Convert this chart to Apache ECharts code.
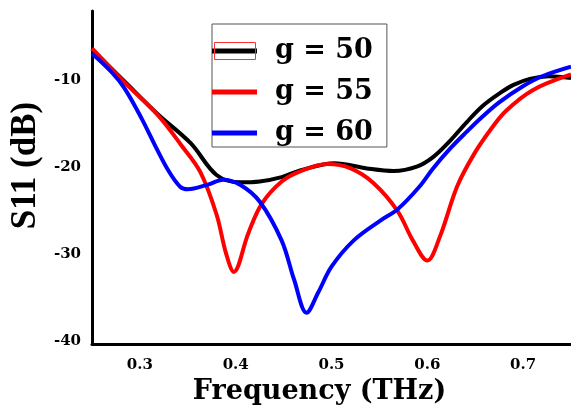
<!DOCTYPE html>
<html>
<head>
<meta charset="utf-8">
<script src="https://cdn.jsdelivr.net/npm/echarts@6/dist/echarts.min.js"></script>
<style>html,body{margin:0;padding:0;background:#fff;}#c{width:571px;height:410px;}</style>
</head>
<body>
<div id="c"></div>
<script>
// Frequency (THz) and S11 (dB) per curve
const freq50 = [0.25, 0.284, 0.319, 0.353, 0.380, 0.404, 0.425, 0.448, 0.468, 0.503, 0.537, 0.565, 0.589, 0.606, 0.624, 0.641, 0.658, 0.675, 0.690, 0.707, 0.727, 0.75];
const s50    = [-6.5, -10.2, -14.0, -17.3, -20.95, -21.8, -21.7, -21.2, -20.4, -19.6, -20.2, -20.5, -20.0, -18.9, -17.0, -14.9, -13.0, -11.6, -10.6, -9.9, -9.6, -9.8];

const freq55 = [0.25, 0.284, 0.319, 0.343, 0.363, 0.380, 0.390, 0.398, 0.413, 0.427, 0.448, 0.468, 0.496, 0.52, 0.544, 0.569, 0.585, 0.600, 0.613, 0.631, 0.648, 0.665, 0.682, 0.71, 0.75];
const s55    = [-6.4, -10.3, -14.1, -17.5, -20.6, -25.5, -30.0, -32.1, -27.7, -24.3, -21.7, -20.5, -19.7, -20.2, -21.9, -25.1, -28.5, -30.8, -28.1, -22.3, -18.7, -15.9, -13.6, -11.2, -9.4];

const freq60 = [0.25, 0.271, 0.284, 0.302, 0.316, 0.330, 0.342, 0.350, 0.370, 0.387, 0.405, 0.425, 0.448, 0.461, 0.474, 0.486, 0.50, 0.523, 0.551, 0.569, 0.591, 0.606, 0.624, 0.641, 0.658, 0.675, 0.699, 0.72, 0.75];
const s60    = [-7.0, -9.2, -11.0, -14.5, -17.6, -20.5, -22.3, -22.6, -22.1, -21.5, -22.1, -24.0, -28.5, -33.0, -36.8, -34.5, -31.5, -28.5, -26.2, -24.9, -22.4, -20.2, -17.9, -16.0, -14.2, -12.6, -10.8, -9.6, -8.5];

const seriesNames = ['g = 50', 'g = 55', 'g = 60'];
const xTicks = [0.3, 0.4, 0.5, 0.6, 0.7];
const yTicks = [-40, -30, -20, -10];

const zip = (xs, ys) => xs.map((x, i) => [x, ys[i]]);
const colors = ['#000000', '#ff0000', '#0000ff'];
const datasets = [zip(freq50, s50), zip(freq55, s55), zip(freq60, s60)];

const chart = echarts.init(document.getElementById('c'), null, {renderer: 'canvas'});
chart.setOption({
  animation: false,
  backgroundColor: '#ffffff',
  grid: {left: 89, right: 0, top: 11, bottom: 62},
  xAxis: {
    type: 'value', min: 0.25, max: 0.75,
    name: 'Frequency (THz)', nameLocation: 'middle', nameGap: 26,
    nameTextStyle: {fontFamily: 'DejaVu Serif', fontWeight: 'bold', fontSize: 27, color: '#000', padding: [0, 24, 0, 0]},
    axisLine: {show: true, onZero: false, lineStyle: {color: '#000', width: 3}},
    axisTick: {show: false},
    splitLine: {show: false},
    axisLabel: {customValues: xTicks, margin: 14, fontFamily: 'DejaVu Serif', fontWeight: 'bold', fontSize: 15, color: '#000'}
  },
  yAxis: {
    type: 'value', min: -40.4, max: -2.1,
    name: 'S11 (dB)', nameLocation: 'middle', nameGap: 47, nameRotate: 90,
    nameTextStyle: {fontFamily: 'Liberation Serif', fontWeight: 'bold', fontSize: 35, color: '#000', padding: [0, 0, 0, 24]},
    axisLine: {show: true, onZero: false, lineStyle: {color: '#000', width: 3}},
    axisTick: {show: false},
    splitLine: {show: false},
    axisLabel: {customValues: yTicks, margin: 11, fontFamily: 'DejaVu Serif', fontWeight: 'bold', fontSize: 15, color: '#000'}
  },
  legend: {
    orient: 'vertical', left: 212, top: 24,
    data: seriesNames,
    icon: 'rect', itemWidth: 45, itemHeight: 5, itemGap: 13,
    padding: [13, 14, 0, 0],
    backgroundColor: '#ffffff', borderColor: '#555555', borderWidth: 1,
    textStyle: {fontFamily: 'DejaVu Serif', fontWeight: 'bold', fontSize: 27, color: '#000', padding: [0, 0, 0, 13], lineHeight: 28}
  },
  graphic: [{
    type: 'rect', z: 100,
    shape: {x: 214.5, y: 42.5, width: 41, height: 17},
    style: {fill: 'none', stroke: '#ff3030', lineWidth: 1}
  }],
  series: datasets.map((d, i) => ({
    name: seriesNames[i], type: 'line', data: d, smooth: 0.35,
    showSymbol: false, symbol: 'none',
    lineStyle: {color: colors[i], width: 4},
    itemStyle: {color: colors[i]}
  }))
});
</script>
</body>
</html>
